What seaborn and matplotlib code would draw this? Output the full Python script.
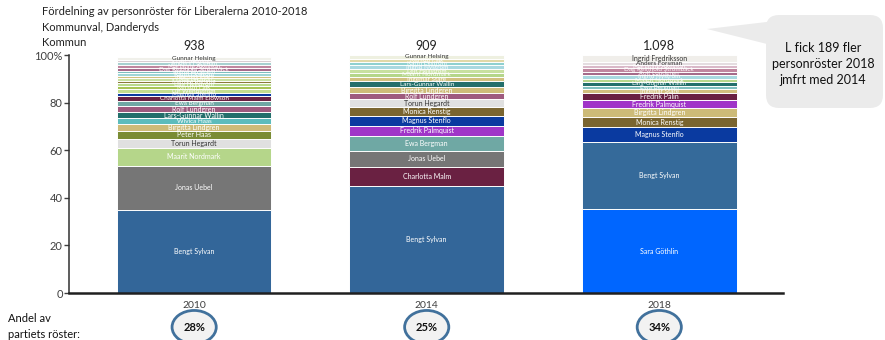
import numpy as np
import pandas as pd
import matplotlib
matplotlib.use("Agg")
import matplotlib.pyplot as plt
from matplotlib.patches import Ellipse, FancyBboxPatch, Polygon
from matplotlib import colors as mcolors
import seaborn as sns

# data
years = ["2010", "2014", "2018"]
totals = ["938", "909", "1.098"]
party_share = ["28%", "25%", "34%"]

names_2010 = ["Bengt Sylvan", "Jonas Uebel", "Maarit Nordmark", "Torun Hegardt", "Peter Haas",
              "Birgitta Lindgren", "Wivica Haas", "Lars-Gunnar Wallin", "Rolf Lundgren", "Ewa Bergman",
              "Charlotta Malm Elowson", "Magnus Stenflo", "Ulf Wennström", "Kerstin Falk",
              "Lisa Hellström", "Monica Renstig", "Maria Lind", "Ingemar Stare", "Karin Ekström",
              "Ingrid Nyström", "Dag Reinhold Strömbäck", "Marianne Åkesson", "Anders Forsman",
              "Leif Jennings", "Gunnar Helsing"]
values_2010 = [35.0, 18.5, 7.5, 3.8, 3.4, 3.0, 2.2, 2.5, 2.6, 2.0, 2.1, 1.4, 1.6, 1.3, 1.2,
               1.2, 1.0, 1.1, 1.1, 1.0, 1.2, 1.2, 1.0, 1.2, 1.3]

names_2014 = ["Bengt Sylvan", "Charlotta Malm", "Jonas Uebel", "Ewa Bergman", "Fredrik Palmquist",
              "Magnus Stenflo", "Monica Renstig", "Torun Hegardt", "Rolf Lundgren", "Birgitta Lindgren",
              "Lars-Gunnar Wallin", "Ingemar Stare", "Maarit Nordmark", "Leif Hellström",
              "Ingrid Nyström", "Karin Ekström", "Kerstin Falk", "Gunnar Helsing"]
values_2014 = [45.0, 8.0, 6.7, 6.3, 4.4, 3.9, 3.8, 3.3, 2.6, 2.5, 2.4, 2.0, 1.7, 1.4, 1.8,
               1.3, 1.3, 1.6]

names_2018 = ["Sara Göthlin", "Bengt Sylvan", "Magnus Stenflo", "Monica Renstig", "Birgitta Lindgren",
              "Fredrik Palmquist", "Fredrik Palin", "Ingemar Stare", "Ewa Bergman", "Lars-Gunnar Wallin",
              "Maarit Nordmark", "Ingrid Nyström", "Rolf Lundgren", "Dag Reinhold Strömbäck",
              "Marianne Åkesson", "Anders Forsman", "Ingrid Fredriksson"]
values_2018 = [35.3, 28.1, 6.2, 4.3, 3.8, 3.4, 2.8, 1.7, 1.6, 1.3, 1.5, 1.6, 1.4, 1.5, 1.3,
               1.4, 2.8]

# colours (style, per segment)
colors_2010 = ["#336699", "#767676", "#b5d68a", "#e0e0e0", "#7a8c34", "#cdbb78", "#5cbcbc",
               "#236f6b", "#9e5a7e", "#6fa8a4", "#6a2142", "#0a3aa0", "#c3dd8e", "#a7c455",
               "#b9d98c", "#8a7a3a", "#c8e0a0", "#d2c07e", "#9fd6d6", "#7fbfbf", "#a56a8a",
               "#c0869f", "#a8d0d0", "#d9cdd2", "#f0f0ea"]
colors_2014 = ["#336699", "#6a2142", "#767676", "#6fa8a4", "#a035c8", "#0a3aa0", "#7a6530",
               "#e0e0e0", "#9e5a7e", "#cdbb78", "#236f6b", "#d2c07e", "#b5d68a", "#c8e0a0",
               "#a8d8e0", "#8fd0d0", "#e0d8a8", "#eef0e0"]
colors_2018 = ["#0066ff", "#356a9a", "#0a3aa0", "#7a6530", "#cdbb78", "#a035c8", "#6a2142",
               "#d2c07e", "#7fbfbf", "#236f6b", "#b5d68a", "#a8d8e0", "#a56a8a", "#c0869f",
               "#d9b8c8", "#e4dce0", "#f0eeea"]

segments = {
    "2010": (names_2010, values_2010, colors_2010),
    "2014": (names_2014, values_2014, colors_2014),
    "2018": (names_2018, values_2018, colors_2018),
}

sns.set_style("white")
plt.rcParams["font.family"] = ["Lato", "DejaVu Sans"]

fig = plt.figure(figsize=(8.85, 3.4), dpi=100)
ax = fig.add_axes([0.078, 0.138, 0.807, 0.70])

# stacked bars: draw cumulative heights from top layer down so lower ones cover
cums = {y: np.cumsum(segments[y][1]) for y in years}
n_layers = max(len(segments[y][1]) for y in years)
for j in range(n_layers - 1, -1, -1):
    heights = []
    pal = {}
    for y in years:
        n = len(segments[y][1])
        heights.append(cums[y][j] if j < n else 0.0)
        pal[y] = segments[y][2][j] if j < n else "white"
    layer = pd.DataFrame({"year": years, "top": heights})
    sns.barplot(data=layer, x="year", y="top", hue="year", palette=pal, order=years,
                hue_order=years, legend=False, width=0.665, saturation=1,
                edgecolor="white", linewidth=0.7, ax=ax)

# segment labels
for i, y in enumerate(years):
    names, vals, cols = segments[y]
    cum = cums[y]
    for name, v, c, top in zip(names, vals, cols, cum):
        r, g, b = mcolors.to_rgb(c)
        lum = 0.299 * r + 0.587 * g + 0.114 * b
        tc = "#333333" if lum > 0.85 else "white"
        fs = 5 if v >= 2.5 else 4.6
        ax.text(i, top - v / 2, name, ha="center", va="center", fontsize=fs, color=tc, zorder=5)

ax.set_xlim(-0.538, 2.533)
ax.set_ylim(0, 100)
ax.set_yticks([0, 20, 40, 60, 80, 100])
ax.set_yticklabels(["0", "20", "40", "60", "80", "100%"])
ax.set_xlabel("")
ax.set_ylabel("")
ax.tick_params(axis="y", left=True, length=3.5, width=1, color="#404040",
               labelsize=8, labelcolor="#404040", pad=1)
ax.tick_params(axis="x", length=0, labelsize=7.5, labelcolor="#404040", pad=6)
sns.despine(ax=ax)
ax.spines["left"].set_color("#303030")
ax.spines["left"].set_linewidth(1.1)
ax.spines["bottom"].set_color("#202020")
ax.spines["bottom"].set_linewidth(1.8)

# totals above bars
xt = ax.get_xaxis_transform()
for i, t in enumerate(totals):
    ax.text(i, 1.04, t, transform=xt, ha="center", va="center", fontsize=9, color="#222222")

# share circles below
for i, s in enumerate(party_share):
    e = Ellipse((i, -0.143), 0.19, 0.14, transform=xt, facecolor="#f2f2f2",
                edgecolor="#41719c", linewidth=2, clip_on=False, zorder=5)
    ax.add_patch(e)
    ax.text(i, -0.143, s, transform=xt, ha="center", va="center", fontsize=8,
            fontweight="bold", color="#111111", zorder=6)

# titles
fig.text(0.047, 0.965, "Fördelning av personröster för Liberalerna 2010-2018", fontsize=8,
         color="#222222", va="center")
fig.text(0.047, 0.918, "Kommunval, Danderyds", fontsize=8, color="#222222", va="center")
fig.text(0.047, 0.876, "Kommun", fontsize=8, color="#222222", va="center")
fig.text(0.009, 0.04, "Andel av\npartiets röster:", fontsize=8, color="#111111",
         va="center", linespacing=1.55)

# callout bubble
it = fig.dpi_scale_trans
fig.patches.append(Polygon([(7.07, 3.11), (7.75, 3.19), (7.75, 2.94)], closed=True,
                           transform=it, facecolor="#ebebeb", edgecolor="none", figure=fig))
fig.patches.append(FancyBboxPatch((7.66, 2.32), 1.17, 0.93,
                                  boxstyle="round,pad=0,rounding_size=0.13",
                                  transform=it, facecolor="#ebebeb", edgecolor="none", figure=fig))
fig.text(8.23, 2.76, "L fick 189 fler\npersonröster 2018\njmfrt med 2014", transform=it,
         ha="center", va="center", fontsize=9, color="#111111", linespacing=1.45)

fig.savefig("out.png", dpi=100)
